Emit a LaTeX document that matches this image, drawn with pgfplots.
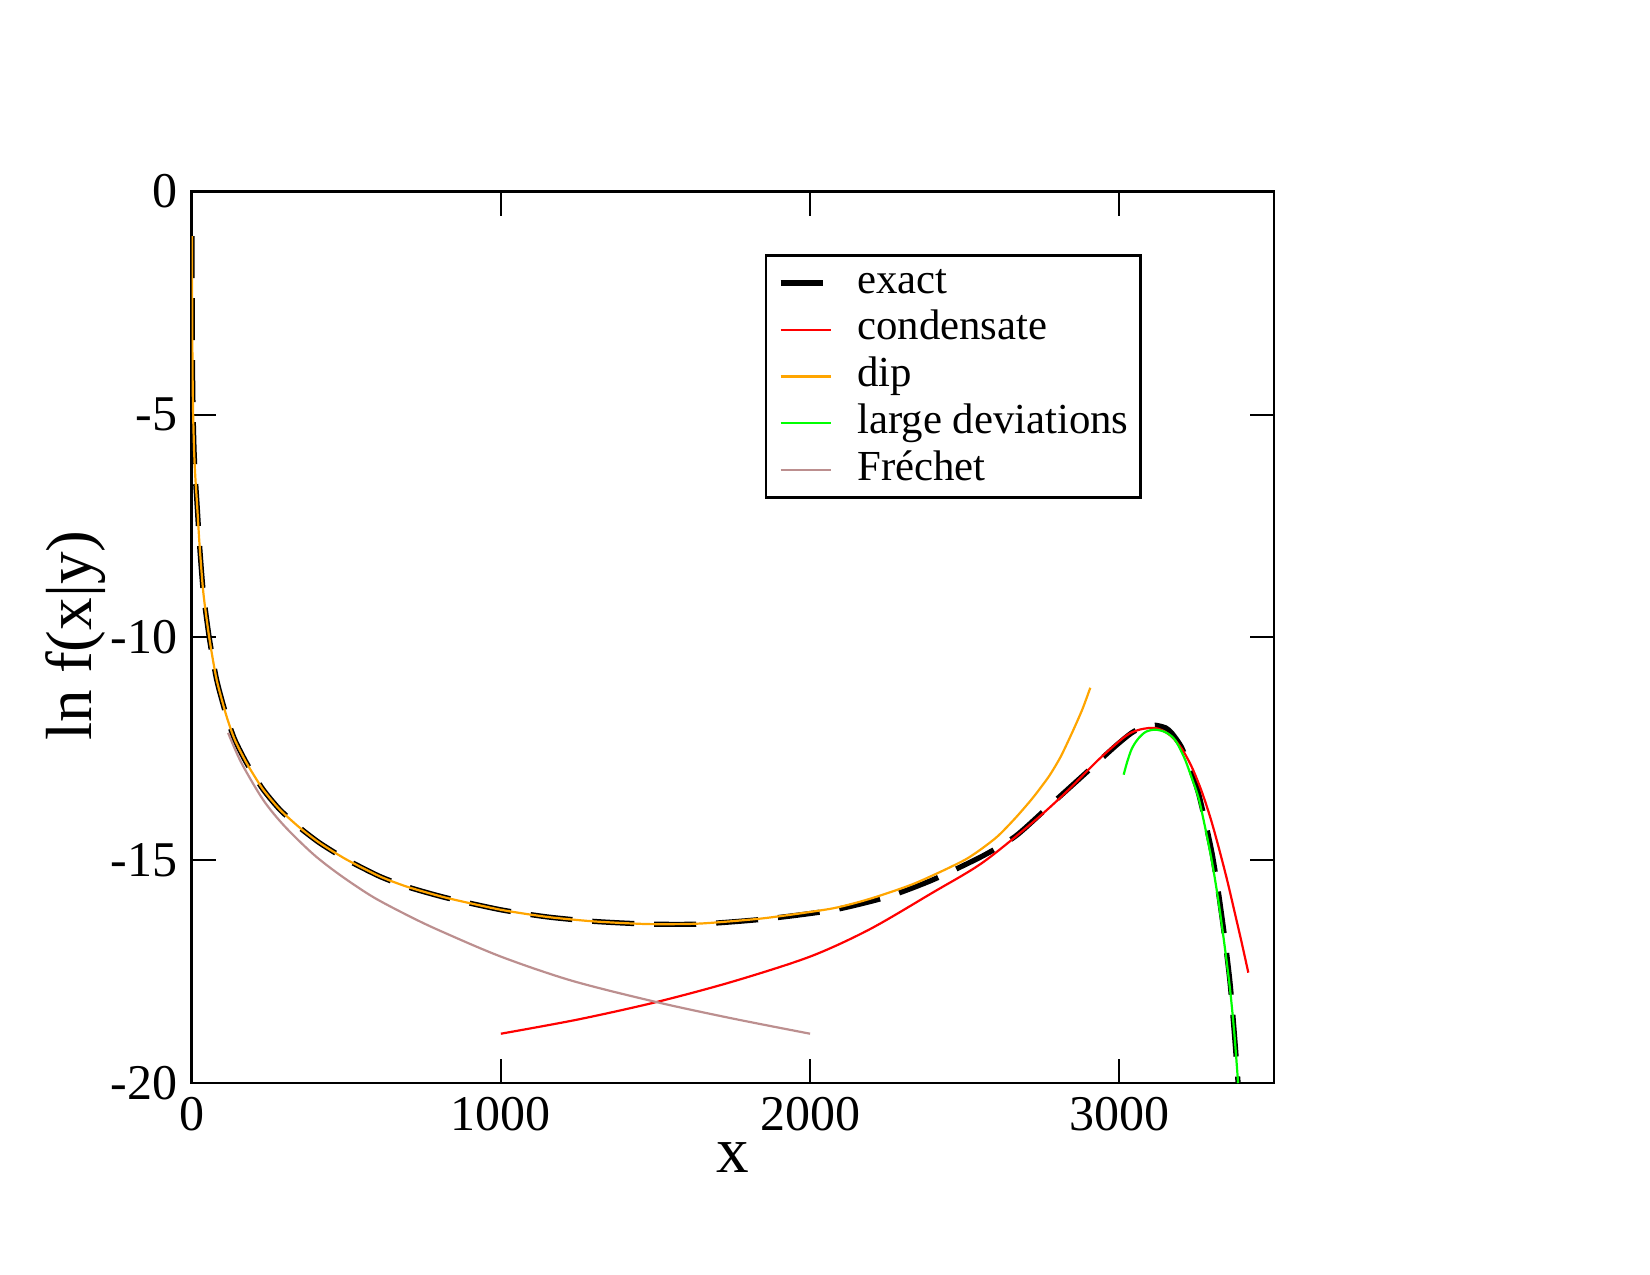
\documentclass[border=0pt]{standalone}
\usepackage{fontspec}
\setmainfont{Liberation Serif}
\usepackage{pgfplots}
\pgfplotsset{compat=1.18}
\definecolor{dipc}{RGB}{255,165,0}
\definecolor{ldc}{RGB}{0,255,0}
\definecolor{frc}{RGB}{188,143,143}

% exact result
\pgfplotstableread{
x y
1 -1.0
1.5 -1.8
2.3 -3.3
3.5 -4.3
5 -5.0
8 -5.8
12 -6.4
18 -7.05
26 -7.95
38 -9.0
57 -10.0
81 -10.95
113 -11.77
140 -12.3
178 -12.82
230 -13.4
285 -13.86
350 -14.27
414 -14.61
500 -14.98
608 -15.36
700 -15.6
823 -15.84
1000 -16.11
1150 -16.27
1300 -16.37
1474 -16.43
1641 -16.43
1850 -16.32
2072 -16.12
2250 -15.82
2396 -15.44
2556 -14.91
2664 -14.46
2772 -13.79
2879 -13.12
2987 -12.44
3040 -12.14
3080 -12.0
3116 -11.97
3150 -12.03
3170 -12.15
3200 -12.45
3230 -12.95
3256 -13.5
3280 -14.2
3300 -14.85
3320 -15.7
3340 -16.7
3358 -17.75
3372 -18.9
3384 -20.0
}\exact

% condensate approximation
\pgfplotstableread{
x y
1000 -18.89
1250 -18.57
1503 -18.18
1750 -17.72
2000 -17.16
2192 -16.55
2395 -15.73
2556 -15.06
2718 -14.16
2825 -13.49
2933 -12.74
3019 -12.22
3060 -12.08
3100 -12.03
3127 -12.05
3165 -12.2
3202 -12.5
3235 -12.92
3266 -13.45
3295 -14.06
3320 -14.68
3348 -15.43
3374 -16.2
3396 -16.86
3417 -17.52
}\condensate

% dip approximation
\pgfplotstableread{
x y
1 -1.0
1.5 -1.8
2.3 -3.3
3.5 -4.3
5 -5.0
8 -5.8
12 -6.4
18 -7.05
26 -7.95
38 -9.0
57 -10.0
81 -10.95
113 -11.77
140 -12.3
178 -12.82
230 -13.4
285 -13.86
350 -14.27
414 -14.61
500 -14.98
608 -15.36
700 -15.6
823 -15.84
1000 -16.11
1150 -16.27
1300 -16.37
1474 -16.43
1641 -16.42
1850 -16.30
2072 -16.08
2200 -15.85
2341 -15.51
2503 -14.98
2600 -14.5
2664 -14.05
2720 -13.6
2772 -13.12
2810 -12.68
2847 -12.14
2880 -11.62
2906 -11.13
}\dip

% large deviations
\pgfplotstableread{
x y
3014 -13.08
3025 -12.8
3040 -12.5
3060 -12.28
3085 -12.12
3116 -12.07
3150 -12.13
3180 -12.3
3210 -12.7
3234 -13.15
3256 -13.6
3277 -14.25
3300 -15.05
3320 -15.9
3340 -16.9
3358 -17.9
3372 -18.9
3384 -20.0
}\largedev

% Frechet
\pgfplotstableread{
x y
118 -12.14
160 -12.8
231 -13.64
300 -14.23
393 -14.86
480 -15.33
586 -15.82
700 -16.24
800 -16.57
1000 -17.16
1229 -17.7
1503 -18.18
1750 -18.55
2000 -18.89
}\frechet

\begin{document}
\begin{tikzpicture}
\path[use as bounding box] (-47.9pt,-47.9pt) rectangle (364.6pt,270.8pt);
\begin{axis}[
  at={(0pt,0pt)}, anchor=south west,
  scale only axis, width=270.6pt, height=222.9pt,
  xmin=0, xmax=3500, ymin=-20, ymax=0,
  xtick={0,1000,2000,3000}, xticklabels={0,1000,2000,3000},
  ytick={-20,-15,-10,-5,0}, yticklabels={-20,-15,-10,-5,0},
  /pgf/number format/assume math mode=true,
  tick label style={font=\fontsize{12.5}{14}\selectfont},
  tick align=inside, major tick length=6pt,
  axis line style={line width=0.6pt},
  every tick/.style={black, line width=0.5pt},
  clip=true,
  xlabel={x}, ylabel={ln f(x|y)},
  label style={font=\fontsize{16.3}{18}\selectfont},
  xlabel style={at={(axis description cs:0.5,-0.1005)}, anchor=base},
  ylabel style={at={(axis description cs:-0.107,0.502)}, anchor=center},
  legend style={at={(axis description cs:0.5296,0.9296)}, anchor=north west,
    draw=black, line width=0.6pt, fill=white,
    font=\fontsize{10.7}{13}\selectfont,
    inner xsep=1pt, inner ysep=1pt, row sep=0pt, column sep=4pt,
    nodes={inner ysep=0.8pt, text height=7.6pt, text depth=2.5pt}},
  legend cell align=left,
  legend image code/.code={\path (0pt,0pt); \draw[#1] (2pt,0pt) -- (14.5pt,0pt);},
]
\addplot[black, line width=1.3pt, dash pattern=on 10.5pt off 5pt, smooth, tension=0.4] table {\exact};
\addlegendentry{exact}
\addplot[red, line width=0.55pt, smooth] table {\condensate};
\addlegendentry{condensate}
\addplot[dipc, line width=0.55pt, smooth, tension=0.4] table {\dip};
\addlegendentry{dip}
\addplot[ldc, line width=0.55pt, smooth] table {\largedev};
\addlegendentry{large deviations}
\addplot[frc, line width=0.55pt, smooth] table {\frechet};
\addlegendentry{Fréchet}
\end{axis}
\end{tikzpicture}
\end{document}
